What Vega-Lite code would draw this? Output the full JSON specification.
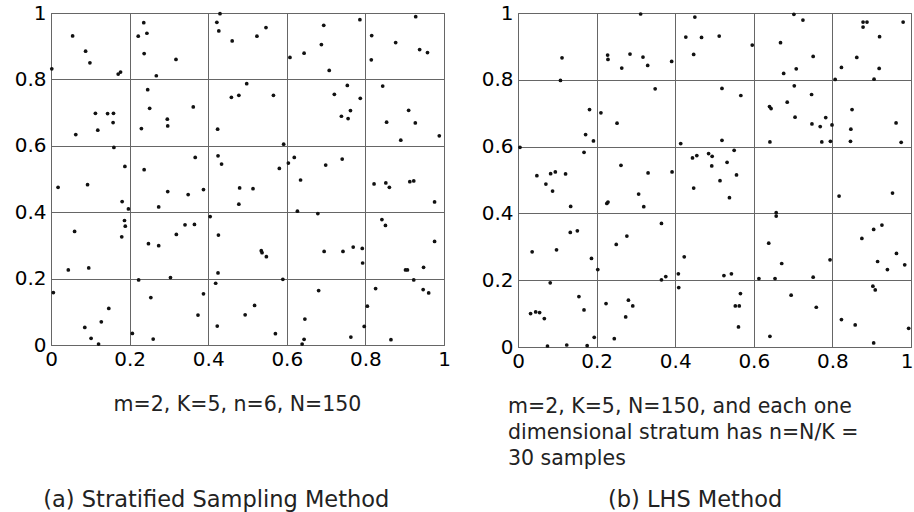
{
 "$schema": "https://vega.github.io/schema/vega-lite/v6.json",
 "background": "white",
 "padding": {"left": 13, "top": 2, "right": 0, "bottom": 0},
 "datasets": {
  "strat": [
   {"x":0.002,"y":0.832},{"x":0.055,"y":0.931},{"x":0.088,"y":0.885},{"x":0.099,"y":0.850},{"x":0.171,"y":0.816},{"x":0.177,"y":0.822},{"x":0.113,"y":0.698},{"x":0.144,"y":0.697},{"x":0.159,"y":0.698},{"x":0.158,"y":0.670},{"x":0.119,"y":0.647},{"x":0.063,"y":0.634},{"x":0.160,"y":0.595},{"x":0.188,"y":0.538},
   {"x":0.236,"y":0.971},{"x":0.222,"y":0.930},{"x":0.244,"y":0.939},{"x":0.237,"y":0.878},{"x":0.318,"y":0.860},{"x":0.268,"y":0.811},{"x":0.246,"y":0.769},{"x":0.251,"y":0.713},{"x":0.362,"y":0.717},{"x":0.296,"y":0.680},{"x":0.297,"y":0.660},{"x":0.230,"y":0.652},{"x":0.367,"y":0.565},{"x":0.237,"y":0.528},
   {"x":0.430,"y":0.998},{"x":0.422,"y":0.972},{"x":0.427,"y":0.946},{"x":0.461,"y":0.916},{"x":0.459,"y":0.746},{"x":0.424,"y":0.650},{"x":0.425,"y":0.570},{"x":0.434,"y":0.545},
   {"x":0.524,"y":0.930},{"x":0.547,"y":0.956},{"x":0.478,"y":0.752},{"x":0.498,"y":0.787},{"x":0.566,"y":0.752},{"x":0.592,"y":0.605},{"x":0.581,"y":0.532},{"x":0.604,"y":0.548},{"x":0.619,"y":0.565},{"x":0.699,"y":0.542},{"x":0.741,"y":0.560},
   {"x":0.694,"y":0.963},{"x":0.786,"y":0.980},{"x":0.688,"y":0.905},{"x":0.644,"y":0.879},{"x":0.608,"y":0.866},{"x":0.708,"y":0.827},{"x":0.754,"y":0.782},{"x":0.721,"y":0.755},{"x":0.787,"y":0.743},{"x":0.762,"y":0.706},{"x":0.739,"y":0.689},{"x":0.756,"y":0.682},
   {"x":0.928,"y":0.989},{"x":0.816,"y":0.932},{"x":0.877,"y":0.911},{"x":0.938,"y":0.890},{"x":0.958,"y":0.881},{"x":0.815,"y":0.859},{"x":0.844,"y":0.780},{"x":0.910,"y":0.707},{"x":0.854,"y":0.671},{"x":0.927,"y":0.669},{"x":0.890,"y":0.617},{"x":0.988,"y":0.630},
   {"x":0.018,"y":0.475},{"x":0.093,"y":0.483},{"x":0.181,"y":0.432},{"x":0.197,"y":0.410},{"x":0.187,"y":0.375},{"x":0.189,"y":0.358},{"x":0.180,"y":0.326},{"x":0.060,"y":0.342},{"x":0.044,"y":0.226},{"x":0.096,"y":0.232},{"x":0.006,"y":0.158},{"x":0.147,"y":0.110},{"x":0.128,"y":0.070},{"x":0.086,"y":0.053},{"x":0.102,"y":0.020},{"x":0.121,"y":0.003},{"x":0.207,"y":0.035},
   {"x":0.297,"y":0.462},{"x":0.349,"y":0.453},{"x":0.388,"y":0.468},{"x":0.274,"y":0.416},{"x":0.405,"y":0.387},{"x":0.426,"y":0.331},{"x":0.319,"y":0.333},{"x":0.341,"y":0.362},{"x":0.365,"y":0.363},{"x":0.248,"y":0.305},{"x":0.274,"y":0.299},{"x":0.223,"y":0.196},{"x":0.304,"y":0.203},{"x":0.254,"y":0.143},{"x":0.388,"y":0.154},{"x":0.374,"y":0.090},{"x":0.260,"y":0.018},
   {"x":0.425,"y":0.217},{"x":0.419,"y":0.186},{"x":0.423,"y":0.057},
   {"x":0.480,"y":0.473},{"x":0.514,"y":0.471},{"x":0.478,"y":0.424},{"x":0.535,"y":0.284},{"x":0.537,"y":0.278},{"x":0.548,"y":0.266},{"x":0.590,"y":0.198},{"x":0.518,"y":0.119},{"x":0.494,"y":0.091},{"x":0.571,"y":0.034},
   {"x":0.635,"y":0.497},{"x":0.627,"y":0.403},{"x":0.679,"y":0.396},{"x":0.695,"y":0.282},{"x":0.743,"y":0.282},{"x":0.769,"y":0.295},{"x":0.792,"y":0.291},{"x":0.793,"y":0.247},{"x":0.681,"y":0.164},{"x":0.646,"y":0.078},{"x":0.644,"y":0.017},{"x":0.639,"y":0.003},{"x":0.763,"y":0.024},{"x":0.797,"y":0.056},{"x":0.805,"y":0.117},
   {"x":0.822,"y":0.485},{"x":0.852,"y":0.488},{"x":0.861,"y":0.475},{"x":0.913,"y":0.492},{"x":0.923,"y":0.494},{"x":0.976,"y":0.431},{"x":0.842,"y":0.378},{"x":0.851,"y":0.360},{"x":0.976,"y":0.312},{"x":0.902,"y":0.226},{"x":0.907,"y":0.226},{"x":0.948,"y":0.234},{"x":0.923,"y":0.196},{"x":0.826,"y":0.170},{"x":0.947,"y":0.167},{"x":0.961,"y":0.157},{"x":0.865,"y":0.016}
  ],
  "lhs": [
   {"x":0.312,"y":0.997},{"x":0.112,"y":0.866},{"x":0.108,"y":0.798},{"x":0.228,"y":0.874},{"x":0.229,"y":0.861},{"x":0.285,"y":0.877},{"x":0.318,"y":0.868},{"x":0.330,"y":0.843},{"x":0.264,"y":0.835},{"x":0.391,"y":0.855},{"x":0.349,"y":0.773},{"x":0.182,"y":0.711},{"x":0.211,"y":0.701},{"x":0.252,"y":0.670},{"x":0.172,"y":0.636},{"x":0.192,"y":0.617},{"x":0.168,"y":0.583},{"x":0.005,"y":0.598},{"x":0.414,"y":0.609},{"x":0.262,"y":0.544},
   {"x":0.450,"y":0.988},{"x":0.427,"y":0.928},{"x":0.467,"y":0.927},{"x":0.512,"y":0.931},{"x":0.447,"y":0.876},{"x":0.596,"y":0.904},{"x":0.519,"y":0.774},{"x":0.567,"y":0.753},{"x":0.519,"y":0.619},{"x":0.550,"y":0.589},{"x":0.485,"y":0.579},{"x":0.494,"y":0.571},{"x":0.455,"y":0.573},{"x":0.444,"y":0.566},{"x":0.532,"y":0.553},{"x":0.493,"y":0.542},
   {"x":0.702,"y":0.996},{"x":0.725,"y":0.979},{"x":0.668,"y":0.911},{"x":0.751,"y":0.870},{"x":0.708,"y":0.833},{"x":0.676,"y":0.819},{"x":0.703,"y":0.782},{"x":0.747,"y":0.756},{"x":0.640,"y":0.720},{"x":0.644,"y":0.714},{"x":0.685,"y":0.733},{"x":0.705,"y":0.688},{"x":0.783,"y":0.687},{"x":0.748,"y":0.668},{"x":0.769,"y":0.660},{"x":0.799,"y":0.665},{"x":0.641,"y":0.614},{"x":0.773,"y":0.614},{"x":0.795,"y":0.616},
   {"x":0.878,"y":0.973},{"x":0.888,"y":0.973},{"x":0.878,"y":0.958},{"x":0.980,"y":0.973},{"x":0.920,"y":0.929},{"x":0.862,"y":0.867},{"x":0.823,"y":0.837},{"x":0.919,"y":0.834},{"x":0.807,"y":0.801},{"x":0.906,"y":0.802},{"x":0.850,"y":0.711},{"x":0.962,"y":0.671},{"x":0.847,"y":0.652},{"x":0.846,"y":0.616},{"x":0.975,"y":0.613},
   {"x":0.048,"y":0.513},{"x":0.071,"y":0.488},{"x":0.083,"y":0.519},{"x":0.095,"y":0.524},{"x":0.121,"y":0.518},{"x":0.088,"y":0.467},{"x":0.134,"y":0.421},{"x":0.133,"y":0.343},{"x":0.151,"y":0.348},{"x":0.036,"y":0.285},{"x":0.098,"y":0.291},{"x":0.187,"y":0.265},{"x":0.203,"y":0.232},{"x":0.082,"y":0.192},{"x":0.155,"y":0.151},{"x":0.168,"y":0.111},{"x":0.032,"y":0.100},{"x":0.045,"y":0.105},{"x":0.055,"y":0.103},{"x":0.067,"y":0.085},{"x":0.194,"y":0.029},{"x":0.075,"y":0.003},{"x":0.124,"y":0.006},{"x":0.176,"y":0.004},
   {"x":0.331,"y":0.521},{"x":0.392,"y":0.524},{"x":0.307,"y":0.458},{"x":0.226,"y":0.430},{"x":0.229,"y":0.434},{"x":0.320,"y":0.420},{"x":0.365,"y":0.370},{"x":0.277,"y":0.332},{"x":0.250,"y":0.307},{"x":0.365,"y":0.201},{"x":0.376,"y":0.211},{"x":0.224,"y":0.130},{"x":0.281,"y":0.140},{"x":0.292,"y":0.123},{"x":0.274,"y":0.090},{"x":0.245,"y":0.025},
   {"x":0.423,"y":0.270},{"x":0.408,"y":0.219},{"x":0.409,"y":0.178},
   {"x":0.556,"y":0.515},{"x":0.514,"y":0.498},{"x":0.447,"y":0.476},{"x":0.538,"y":0.447},{"x":0.524,"y":0.214},{"x":0.543,"y":0.219},{"x":0.566,"y":0.160},{"x":0.553,"y":0.123},{"x":0.563,"y":0.123},{"x":0.561,"y":0.060},
   {"x":0.657,"y":0.402},{"x":0.657,"y":0.392},{"x":0.638,"y":0.311},{"x":0.671,"y":0.250},{"x":0.794,"y":0.261},{"x":0.613,"y":0.205},{"x":0.654,"y":0.205},{"x":0.751,"y":0.209},{"x":0.695,"y":0.155},{"x":0.759,"y":0.119},{"x":0.641,"y":0.032},
   {"x":0.817,"y":0.452},{"x":0.953,"y":0.461},{"x":0.926,"y":0.365},{"x":0.905,"y":0.352},{"x":0.875,"y":0.325},{"x":0.963,"y":0.280},{"x":0.915,"y":0.256},{"x":0.984,"y":0.246},{"x":0.940,"y":0.232},{"x":0.903,"y":0.182},{"x":0.909,"y":0.171},{"x":0.823,"y":0.082},{"x":0.858,"y":0.066},{"x":0.994,"y":0.056},{"x":0.905,"y":0.012}
  ]
 },
 "config": {
  "view": {"stroke": "#555555", "strokeWidth": 1},
  "axis": {"grid": true, "gridColor": "#666666", "gridWidth": 1, "gridOpacity": 1, "domain": false, "ticks": false, "labelFont": "DejaVu Sans", "labelFontSize": 20, "labelColor": "#000000", "labelFlush": false, "labelOverlap": false},
  "axisX": {"labelPadding": 4},
  "axisY": {"labelPadding": 5},
  "title": {"font": "DejaVu Sans", "fontSize": 20.5, "fontWeight": "normal", "color": "#222222", "lineHeight": 26},
  "concat": {"spacing": 29}
 },
 "hconcat": [
  {
   "vconcat": [
    {
     "width": 393, "height": 332,
     "data": {"name": "strat"},
     "mark": {"type": "circle", "size": 14, "color": "#111111", "opacity": 1},
     "encoding": {
      "x": {"field": "x", "type": "quantitative", "scale": {"domain": [0, 1], "nice": false, "zero": false}, "axis": {"values": [0, 0.2, 0.4, 0.6, 0.8, 1], "format": "~g", "title": null}},
      "y": {"field": "y", "type": "quantitative", "scale": {"domain": [0, 1], "nice": false, "zero": false}, "axis": {"values": [0, 0.2, 0.4, 0.6, 0.8, 1], "format": "~g", "title": null}}
     },
     "title": {"text": ["m=2, K=5, n=6, N=150", " ", " "], "orient": "bottom", "anchor": "middle", "frame": "group", "dx": -10, "offset": 26}
    }
   ],
   "title": {"text": "(a) Stratified Sampling Method", "orient": "bottom", "anchor": "middle", "dx": -16, "offset": 21, "fontSize": 22.5}
  },
  {
   "vconcat": [
    {
     "width": 393, "height": 334,
     "data": {"name": "lhs"},
     "mark": {"type": "circle", "size": 14, "color": "#111111", "opacity": 1},
     "encoding": {
      "x": {"field": "x", "type": "quantitative", "scale": {"domain": [0, 1], "nice": false, "zero": false}, "axis": {"values": [0, 0.2, 0.4, 0.6, 0.8, 1], "format": "~g", "title": null, "labelAlign": {"expr": "datum.value == 1 ? 'right' : 'center'"}, "labelOffset": {"expr": "datum.value == 1 ? 2 : 0"}}},
      "y": {"field": "y", "type": "quantitative", "scale": {"domain": [0, 1], "nice": false, "zero": false}, "axis": {"values": [0, 0.2, 0.4, 0.6, 0.8, 1], "format": "~g", "title": null}}
     },
     "title": {"text": ["m=2, K=5, N=150, and each one", "dimensional stratum has n=N/K =", "30 samples"], "orient": "bottom", "anchor": "start", "align": "left", "frame": "group", "dx": -10, "offset": 26}
    }
   ],
   "title": {"text": "(b) LHS Method", "orient": "bottom", "anchor": "middle", "dx": -2, "offset": 19, "fontSize": 22.5}
  }
 ]
}
